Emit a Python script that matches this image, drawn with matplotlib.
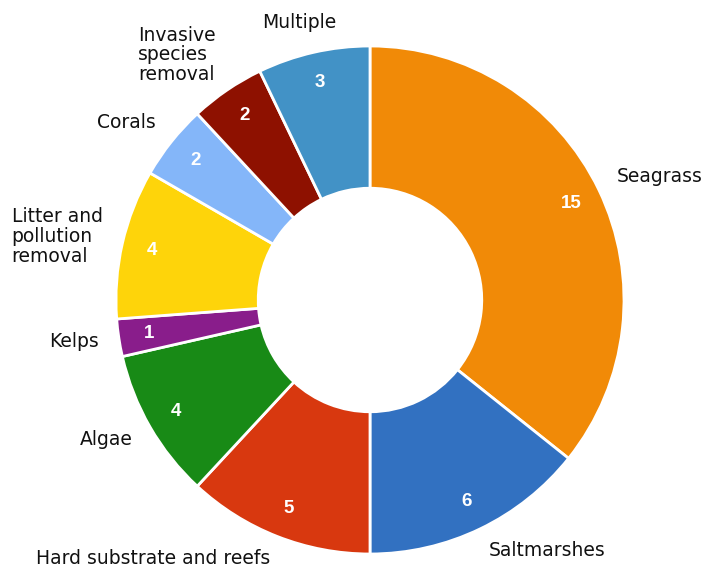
import numpy as np
import matplotlib.pyplot as plt

categories = [
    "Seagrass",
    "Saltmarshes",
    "Hard substrate and reefs",
    "Algae",
    "Kelps",
    "Litter and\npollution\nremoval",
    "Corals",
    "Invasive\nspecies\nremoval",
    "Multiple",
]
counts = [15, 6, 5, 4, 1, 4, 2, 2, 3]
colors = [
    "#F18A07", "#3271C1", "#D8380F", "#188A16", "#891D8B",
    "#FED40A", "#84B6F9", "#8E1100", "#4292C6",
]


def main():
    fig = plt.figure(figsize=(7.04, 5.72), dpi=100)
    # axes sized so the ring has radius 254 px, centred at (370, 300)
    ax = fig.add_axes([116 / 704, 18 / 572, 508 / 704, 508 / 572])

    wedges, _ = ax.pie(
        counts,
        colors=colors,
        startangle=90,
        counterclock=False,
        radius=1.0,
        wedgeprops=dict(width=0.56, edgecolor="white", linewidth=2),
    )

    total = sum(counts)
    start = 0.0
    for name, val in zip(categories, counts):
        mid = (start + val / 2) / total * 2 * np.pi
        start += val
        sx, cy = np.sin(mid), np.cos(mid)

        # value inside the ring, near the outer edge
        ax.text(0.88 * sx, 0.88 * cy, str(val), ha="center", va="center",
                color="white", fontsize=13.5, fontweight="bold",
                family="Liberation Sans")

        # category label outside the ring
        if abs(sx) < 0.3:
            ha = "center"
            x = 1.08 * sx - 0.04
        elif sx > 0:
            ha = "left"
            x = 1.08 * sx
        else:
            ha = "right"
            x = 1.08 * sx
        ry = 1.12 if cy > 0 else 1.095
        y = ry * cy + (0.04 if "\n" in name and cy > 0.5 else 0)
        ax.text(x, y, name, ha=ha, va="center",
                multialignment="left", fontsize=13.5, color="#111111",
                family="DejaVu Sans", linespacing=1.05)

    ax.set_xlim(-1, 1)
    ax.set_ylim(-1, 1)
    ax.set_aspect("equal")
    ax.axis("off")

    fig.savefig("out.png", dpi=100, facecolor="white")


if __name__ == "__main__":
    main()
